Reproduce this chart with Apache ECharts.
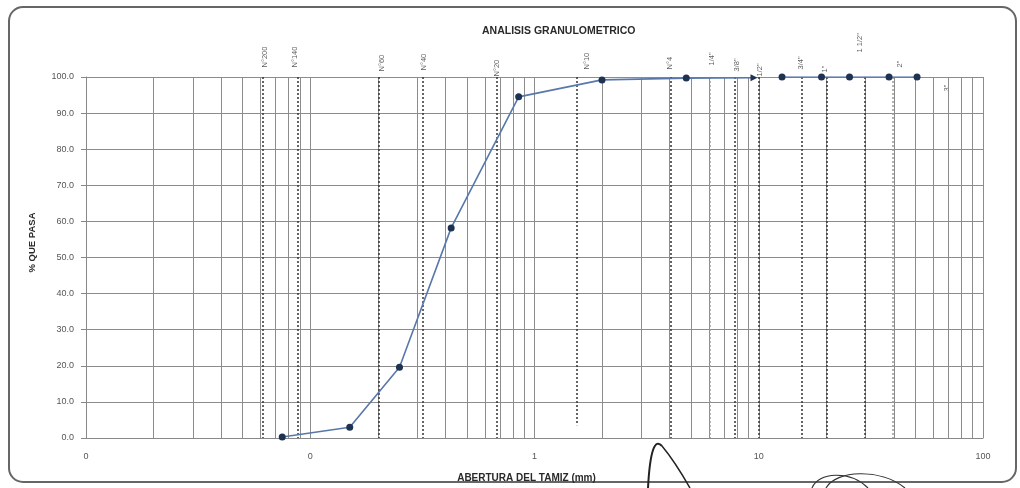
<!DOCTYPE html>
<html>
<head>
<meta charset="utf-8">
<script src="https://cdn.jsdelivr.net/npm/echarts/dist/echarts.min.js"></script>
<style>
	html, body { margin: 0; padding: 0; background: #fff; }
	#main { width: 1020px; height: 488px; }
</style>
</head>
<body>
<div id="main"></div>
<script>
// curva granulometrica
var tamices = ['N°200', 'N°100', 'N°60', 'N°40', 'N°20', 'N°10', 'N°4', '3/8"', '1/2"', '3/4"', '1"', '1 1/2"', '2"'];
var aberturas = [0.075, 0.15, 0.25, 0.425, 0.85, 2.0, 4.75, 9.525, 12.7, 19.05, 25.4, 38.1, 50.8];
var pasa = [0.3, 3.0, 19.6, 58.2, 94.5, 99.2, 99.7, 99.8, 100, 100, 100, 100, 100];

// lineas verticales de tamices (como estan en la plantilla)
var nombresLinea = ['N°200', 'N°140', 'N°60', 'N°40', 'N°20', 'N°10', 'N°4', '1/4"', '3/8"', '1/2"', '3/4"', '1"', '1 1/2"', '2"'];
var posLinea = [0.0617, 0.0882, 0.203, 0.318, 0.68, 1.55, 4.06, 6.07, 7.84, 10.0, 15.6, 20.1, 29.8, 39.7];

// etiquetas de tamices arriba
var etiquetas = ['N°200', 'N°140', 'N°60', 'N°40', 'N°20', 'N°10', 'N°4', '1/4"', '3/8"', '1/2"', '3/4"', '1"', '1 1/2"', '2"', '3"'];
var posEtiqueta = [0.0628, 0.0855, 0.209, 0.321, 0.68, 1.71, 4.02, 6.19, 8.0, 10.1, 15.4, 19.7, 28.3, 42.7, 69];
var altoEtiqueta = [9, 9, 5, 6, 0, 7, 7, 11, 5, 0, 7, 4, 24, 9, -15];

var yTicks = [0, 10, 20, 30, 40, 50, 60, 70, 80, 90, 100];
var decadas = [0.01, 0.1, 1, 10];

var chart = echarts.init(document.getElementById('main'));

// data de la curva, con corte antes de 1/2"
var curva = [];
for(var i = 0; i < aberturas.length; i++) {
	if(tamices[i] === '1/2"') {
		curva.push(['-', '-']);
	}
	var item = { name: tamices[i], value: [aberturas[i], pasa[i]] };
	if(tamices[i] === '3/8"') {
		item.symbol = 'triangle';
		item.symbolRotate = -90;
	}
	curva.push(item);
}

// grilla menor logaritmica
var grillaMenor = [];
for(var d = 0; d < decadas.length; d++) {
	for(var m = 2; m <= 9; m++) {
		grillaMenor.push({ xAxis: +(decadas[d] * m).toPrecision(3) });
	}
}

var lineasTamiz = [];
for(var k = 0; k < posLinea.length; k++) {
	var claro = (nombresLinea[k] === '1/4"' || nombresLinea[k] === '2"');
	var fin = nombresLinea[k] === 'N°10' ? 3.5 : 0;
	lineasTamiz.push([
		{ coord: [posLinea[k], 100], lineStyle: { color: claro ? '#999' : '#333' } },
		{ coord: [posLinea[k], fin] }
	]);
}

var etiquetasData = [];
for(var e = 0; e < etiquetas.length; e++) {
	etiquetasData.push({
		name: etiquetas[e],
		value: [posEtiqueta[e], 100],
		label: { distance: altoEtiqueta[e] }
	});
}

var fuente = 'Liberation Sans, Arial, sans-serif';

var option = {
	backgroundColor: '#fff',
	animation: false,
	title: {
		text: 'ANALISIS GRANULOMETRICO',
		left: 477,
		top: 21,
		textStyle: { fontSize: 10.5, fontWeight: 'bold', color: '#2a2a2a', fontFamily: fuente }
	},
	grid: { left: 86, right: 37, top: 77, bottom: 45 },
	xAxis: {
		type: 'log',
		logBase: 10,
		min: 0.01,
		max: 100,
		name: 'ABERTURA DEL TAMIZ (mm)',
		nameLocation: 'middle',
		nameGap: 35,
		nameTextStyle: { fontSize: 10, fontWeight: 'bold', color: '#2a2a2a', fontFamily: fuente, padding: [0, 16, 0, 0] },
		axisLine: { show: true, lineStyle: { color: '#888', width: 1 } },
		axisTick: { show: false },
		axisLabel: {
			fontSize: 9, color: '#555', fontFamily: fuente, margin: 14,
			formatter: function(v) { return v < 1 ? '0' : String(Math.round(v)); }
		},
		splitLine: { show: true, lineStyle: { color: '#8c8c8c', width: 1 } }
	},
	yAxis: {
		type: 'value',
		min: 0,
		max: 100,
		interval: 10,
		name: '% QUE PASA',
		nameLocation: 'middle',
		nameGap: 49,
		nameRotate: 90,
		nameTextStyle: { fontSize: 9.5, fontWeight: 'bold', color: '#2a2a2a', fontFamily: fuente, padding: [0, 0, 0, 30] },
		axisLine: { show: true, lineStyle: { color: '#888', width: 1 } },
		axisTick: { show: true, inside: false, length: 5, lineStyle: { color: '#888' } },
		axisLabel: {
			fontSize: 9, color: '#555', fontFamily: fuente, margin: 12,
			formatter: function(v) { return v.toFixed(1); }
		},
		splitLine: { show: true, lineStyle: { color: '#8c8c8c', width: 1 } }
	},
	series: [{
		name: 'grilla',
		type: 'line',
		data: [],
		z: 1,
		silent: true,
		markLine: {
			silent: true,
			symbol: 'none',
			label: { show: false },
			lineStyle: { color: '#8c8c8c', width: 1, type: 'solid' },
			data: grillaMenor
		}
	}, {
		name: 'tamices',
		type: 'scatter',
		data: etiquetasData,
		symbolSize: 1,
		itemStyle: { color: 'rgba(0,0,0,0)' },
		clip: false,
		silent: true,
		z: 2,
		label: {
			show: true,
			position: 'top',
			rotate: 90,
			align: 'left',
			verticalAlign: 'middle',
			fontSize: 7.5,
			color: '#333',
			fontFamily: fuente,
			formatter: '{b}'
		},
		markLine: {
			silent: true,
			symbol: 'none',
			label: { show: false },
			lineStyle: { color: '#333', width: 1.5, type: [2, 2] },
			data: lineasTamiz
		}
	}, {
		name: '% que pasa',
		type: 'line',
		data: curva,
		z: 5,
		connectNulls: false,
		symbol: 'circle',
		symbolSize: 7,
		lineStyle: { color: '#5878ab', width: 1.6 },
		itemStyle: { color: '#1e3352' }
	}],
	graphic: [{
		type: 'rect',
		shape: { x: 9, y: 7, width: 1007, height: 475, r: 14 },
		style: { fill: 'none', stroke: '#666', lineWidth: 2 },
		silent: true
	}, {
		type: 'bezierCurve',
		shape: { x1: 648, y1: 488, cpx1: 650, cpy1: 450, cpx2: 655, cpy2: 438, x2: 662, y2: 446 },
		style: { stroke: '#222', lineWidth: 2, fill: 'none' }
	}, {
		type: 'bezierCurve',
		shape: { x1: 662, y1: 446, cpx1: 672, cpy1: 458, cpx2: 682, cpy2: 474, x2: 690, y2: 488 },
		style: { stroke: '#222', lineWidth: 1.5, fill: 'none' }
	}, {
		type: 'bezierCurve',
		shape: { x1: 812, y1: 488, cpx1: 818, cpy1: 472, cpx2: 850, cpy2: 470, x2: 868, y2: 488 },
		style: { stroke: '#333', lineWidth: 1.2, fill: 'none' }
	}, {
		type: 'bezierCurve',
		shape: { x1: 826, y1: 488, cpx1: 836, cpy1: 470, cpx2: 880, cpy2: 468, x2: 905, y2: 488 },
		style: { stroke: '#333', lineWidth: 1.2, fill: 'none' }
	}]
};

chart.setOption(option);
</script>
</body>
</html>
